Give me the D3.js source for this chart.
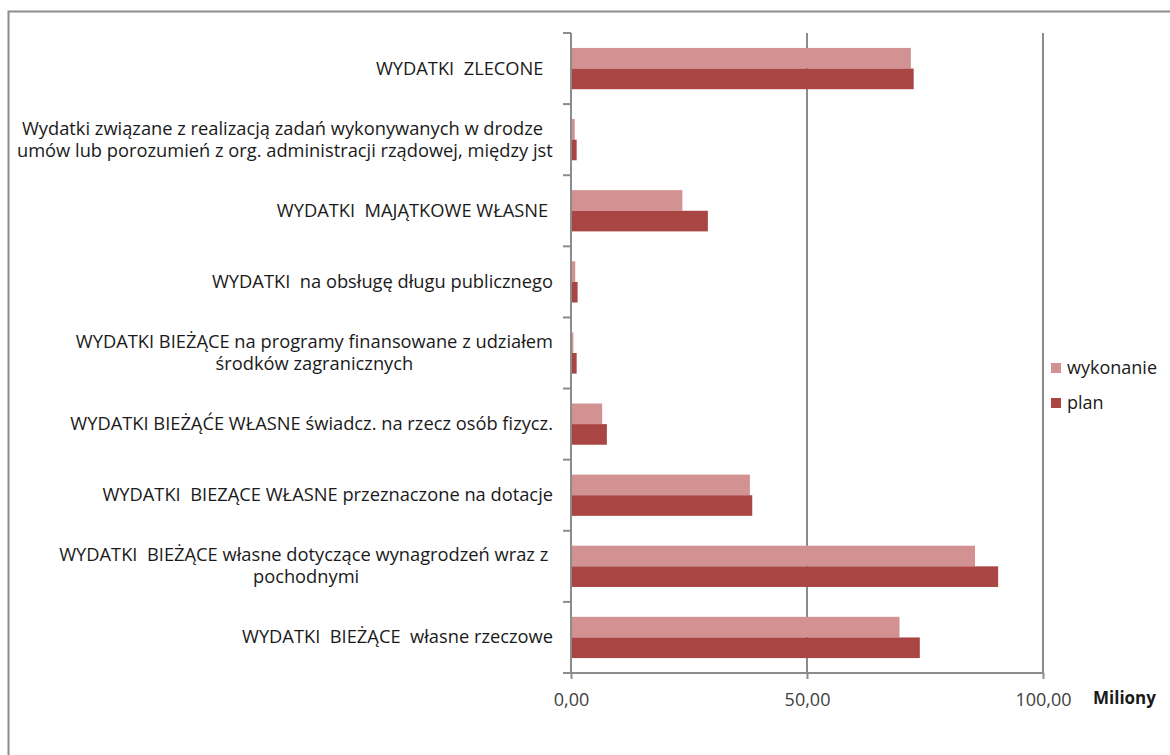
<!DOCTYPE html>
<html>
<head>
<meta charset="utf-8">
<script src="https://cdn.jsdelivr.net/npm/d3@7"></script>
<style>
  body { margin: 0; background: #fff; }
  text { font-family: "Open Sans", sans-serif; white-space: pre; }
</style>
</head>
<body>
<div id="chartContainer"></div>
<script>
// categories top to bottom, each may span two lines
var categories = [
  ["WYDATKI  ZLECONE  "],
  ["Wydatki związane z realizacją zadań wykonywanych w drodze ", "umów lub porozumień z org. administracji rządowej, między jst"],
  ["WYDATKI  MAJĄTKOWE WŁASNE "],
  ["WYDATKI  na obsługę długu publicznego"],
  ["WYDATKI BIEŻĄCE na programy finansowane z udziałem", "środków zagranicznych"],
  ["WYDATKI BIEŻĄĆE WŁASNE świadcz. na rzecz osób fizycz."],
  ["WYDATKI  BIEZĄCE WŁASNE przeznaczone na dotacje"],
  ["WYDATKI  BIEŻĄCE własne dotyczące wynagrodzeń wraz z ", "pochodnymi"],
  ["WYDATKI  BIEŻĄCE  własne rzeczowe"]
];
var wykonanie = [72.0, 0.8, 23.6, 0.9, 0.5, 6.6, 37.9, 85.6, 69.6];
var plan      = [72.6, 1.2, 29.0, 1.4, 1.2, 7.6, 38.4, 90.5, 73.9];
var series = ["wykonanie", "plan"];
var xTicks = [0, 50, 100];

var colors = { wykonanie: "#d39292", plan: "#a94644" };
var gray = "#8c8c8c";

var width = 1170, height = 755;
var plotLeft = 571, plotRight = 1043, plotTop = 33, plotBottom = 673;

var svg = d3.select("#chartContainer").append("svg")
  .attr("width", width)
  .attr("height", height);

// outer frame
svg.append("rect")
  .attr("x", 8.5).attr("y", 11.5)
  .attr("width", width + 20).attr("height", height + 20)
  .attr("fill", "none")
  .attr("stroke", gray)
  .attr("stroke-width", 2);

var keys = categories.map(function(d, i){ return "c" + i; });

var x = d3.scaleLinear()
  .domain([0, 100])
  .range([plotLeft, plotRight]);

var y = d3.scaleBand()
  .domain(keys)
  .range([plotTop, plotBottom])
  .paddingInner(0.42)
  .paddingOuter(0.21);

var ySub = d3.scaleBand()
  .domain(series)
  .range([0, y.bandwidth()]);

// gridlines
svg.append("g")
  .selectAll("line")
  .data(xTicks.filter(function(t){ return t > 0; }))
  .enter().append("line")
    .attr("x1", function(d){ return x(d); })
    .attr("x2", function(d){ return x(d); })
    .attr("y1", plotTop)
    .attr("y2", plotBottom)
    .attr("stroke", gray)
    .attr("stroke-width", 2);

// bars
var rows = keys.map(function(k, i){
  return { key: k, values: [
    { s: "wykonanie", v: wykonanie[i] },
    { s: "plan", v: plan[i] }
  ]};
});

svg.append("g")
  .selectAll("g")
  .data(rows)
  .enter().append("g")
    .attr("transform", function(d){ return "translate(0," + y(d.key) + ")"; })
  .selectAll("rect")
  .data(function(d){ return d.values; })
  .enter().append("rect")
    .attr("x", x(0))
    .attr("y", function(d){ return ySub(d.s); })
    .attr("width", function(d){ return x(d.v) - x(0); })
    .attr("height", ySub.bandwidth())
    .attr("fill", function(d){ return colors[d.s]; });

// x axis
var xAxis = d3.axisBottom(x)
  .tickValues(xTicks)
  .tickSize(6)
  .tickPadding(14)
  .tickFormat(function(d){ return d3.format(".2f")(d).replace(".", ","); });

var xg = svg.append("g")
  .attr("transform", "translate(0," + plotBottom + ")")
  .call(xAxis);
xg.select(".domain").attr("stroke", gray).attr("stroke-width", 2)
  .attr("d", "M" + (plotLeft - 8) + ",0H" + plotRight);
xg.selectAll(".tick line").attr("stroke", gray).attr("stroke-width", 2);
xg.selectAll(".tick text")
  .attr("font-family", "Open Sans, sans-serif")
  .attr("font-size", 18)
  .attr("fill", "#404040");

svg.append("text")
  .attr("x", 1093)
  .attr("y", 704)
  .attr("font-size", 17)
  .attr("font-weight", "bold")
  .attr("fill", "#1a1a1a")
  .text("Miliony");

// y axis line and category separators
svg.append("line")
  .attr("x1", plotLeft).attr("x2", plotLeft)
  .attr("y1", plotTop).attr("y2", plotBottom)
  .attr("stroke", gray)
  .attr("stroke-width", 2);

var step = y.step();
var seps = keys.map(function(k){ return y(k) - (step - y.bandwidth()) / 2; });
svg.append("g")
  .selectAll("line")
  .data(seps)
  .enter().append("line")
    .attr("x1", plotLeft - 8)
    .attr("x2", plotLeft)
    .attr("y1", function(d){ return d; })
    .attr("y2", function(d){ return d; })
    .attr("stroke", gray)
    .attr("stroke-width", 2);

// category labels: lines centred on each other, block right-aligned to the axis
var lineH = 22;
var labels = svg.append("g")
  .selectAll("text")
  .data(rows)
  .enter().append("text")
    .attr("text-anchor", "middle")
    .attr("font-size", 18.3)
    .attr("fill", "#1a1a1a");

labels.each(function(d, i){
  var lines = categories[i];
  var el = d3.select(this);
  el.selectAll("tspan")
    .data(lines)
    .enter().append("tspan")
      .attr("x", 0)
      .attr("y", function(l, j){ return (j - (lines.length - 1) / 2) * lineH + 6; })
      .text(function(l){ return l; });
  var w = this.getBBox().width;
  el.attr("transform", "translate(" + (553 - w / 2) + "," + (y(d.key) + y.bandwidth() / 2) + ")");
});

// legend
var legend = svg.append("g")
  .selectAll("g")
  .data(series)
  .enter().append("g")
    .attr("transform", function(d, i){ return "translate(1051," + (363 + i * 35) + ")"; });

legend.append("rect")
  .attr("width", 10)
  .attr("height", 10)
  .attr("fill", function(d){ return colors[d]; });

legend.append("text")
  .attr("x", 16)
  .attr("y", 11)
  .attr("font-size", 18)
  .attr("fill", "#1a1a1a")
  .text(function(d){ return d; });
</script>
</body>
</html>
